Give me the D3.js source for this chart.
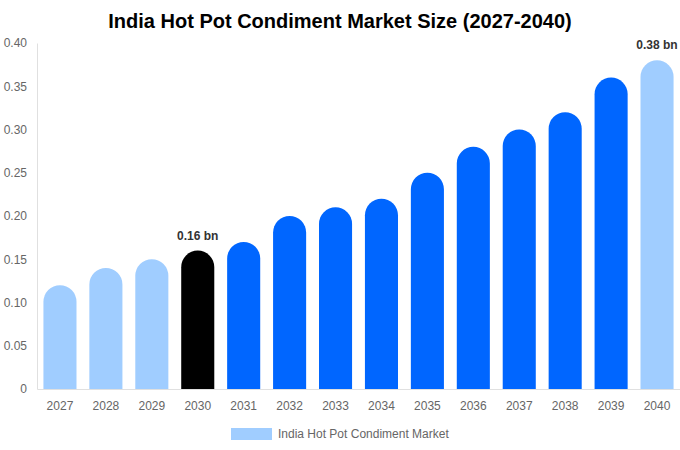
<!DOCTYPE html>
<html><head><meta charset="utf-8">
<script src="https://cdn.jsdelivr.net/npm/d3@7"></script>
<style>body{margin:0;background:#fff;font-family:"Liberation Sans",Arial,sans-serif;}</style>
</head><body><svg id="c" width="680" height="450"></svg>
<script>
const years = ["2027","2028","2029","2030","2031","2032","2033","2034","2035","2036","2037","2038","2039","2040"];
const values = [0.12,0.14,0.15,0.16,0.17,0.20,0.21,0.22,0.25,0.28,0.30,0.32,0.36,0.38];
const barColors = ["#A0CDFF","#A0CDFF","#A0CDFF","#000000","#0066FF","#0066FF","#0066FF","#0066FF","#0066FF","#0066FF","#0066FF","#0066FF","#0066FF","#A0CDFF"];
const labelled = ["2030","2040"];
const yTicks = [0,0.05,0.10,0.15,0.20,0.25,0.30,0.35,0.40];
const title = "India Hot Pot Condiment Market Size (2027-2040)";
const seriesName = "India Hot Pot Condiment Market";

const svg = d3.select("#c");
const x = d3.scaleBand().domain(years).range([37,680]).paddingInner(0.28).paddingOuter(0.14);
const y = d3.scaleLinear().domain([0,0.4]).range([389,43]);

svg.append("text").attr("x",340).attr("y",28).attr("text-anchor","middle")
  .attr("font-size",20).attr("font-weight","bold").attr("fill","#000").text(title);

// axes
const ya = svg.append("g").attr("transform","translate(37,0)")
  .call(d3.axisLeft(y).tickValues(yTicks).tickSize(0).tickPadding(10)
    .tickFormat(d=> d===0 ? "0" : d3.format(".2f")(d)));
ya.select(".domain").attr("stroke","#e0e0e0");
ya.selectAll("text").attr("font-size",12).attr("fill","#666").attr("font-family","Liberation Sans, Arial, sans-serif");

const xa = svg.append("g").attr("transform","translate(0,389)")
  .call(d3.axisBottom(x).tickSize(0).tickPadding(12));
xa.select(".domain").attr("stroke","#e0e0e0");
xa.selectAll("text").attr("font-size",12).attr("fill","#666").attr("font-family","Liberation Sans, Arial, sans-serif");

// bars with rounded tops
const w = x.bandwidth(), r = w/2;
svg.append("g").selectAll("path").data(years).join("path")
  .attr("fill",(d,i)=>barColors[i])
  .attr("d",(d,i)=>{
    const x0 = x(d), y0 = y(values[i]), yb = y(0);
    return `M${x0},${yb} L${x0},${y0+r} A${r},${r} 0 0 1 ${x0+w},${y0+r} L${x0+w},${yb} Z`;
  });

// value labels
svg.append("g").selectAll("text").data(years.filter(d=>labelled.includes(d))).join("text")
  .attr("x",d=>x(d)+w/2).attr("y",d=>y(values[years.indexOf(d)])-11)
  .attr("text-anchor","middle").attr("font-size",12).attr("font-weight","bold").attr("fill","#333")
  .text(d=>values[years.indexOf(d)].toFixed(2)+" bn");

// legend
svg.append("rect").attr("x",231).attr("y",428).attr("width",41).attr("height",12).attr("fill","#A0CDFF");
svg.append("text").attr("x",278).attr("y",438).attr("font-size",12).attr("fill","#666").text(seriesName);
</script></body></html>
